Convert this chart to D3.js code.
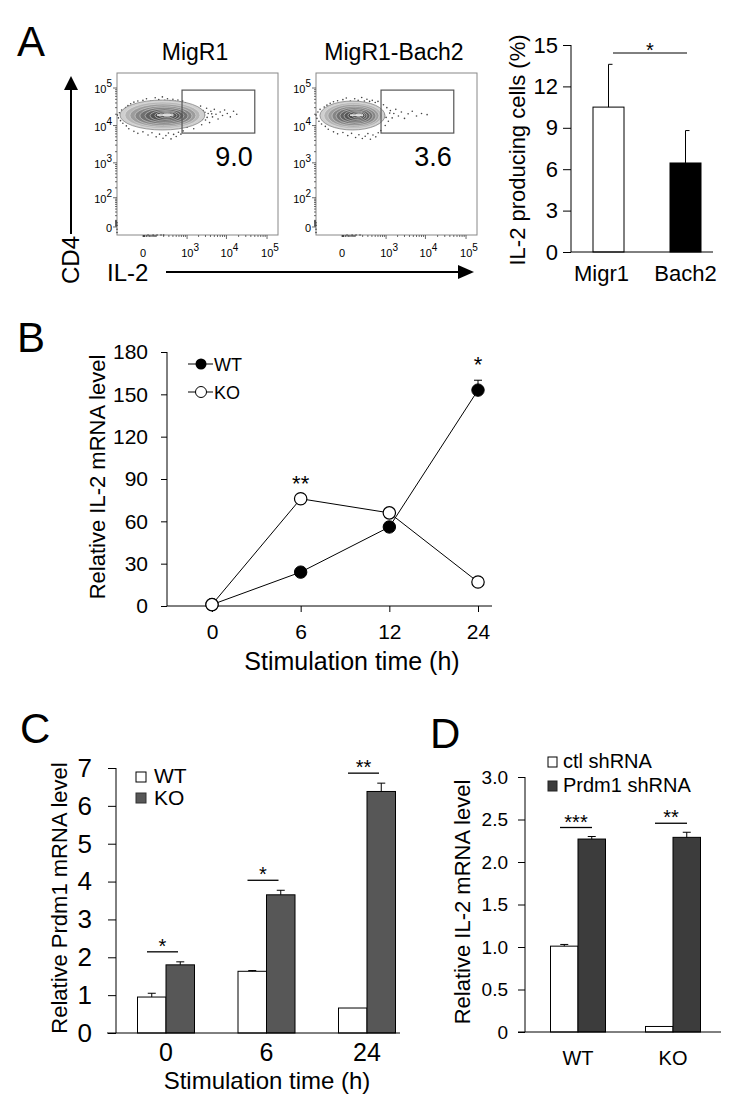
<!DOCTYPE html>
<html>
<head>
<meta charset="utf-8">
<script src="https://cdn.jsdelivr.net/npm/d3@7"></script>
<style>
	body { margin: 0; background: #fff; }
	text { font-family: "Liberation Sans", Arial, sans-serif; fill: #000; }
</style>
</head>
<body>
<svg id="fig" width="745" height="1117"></svg>
<script>
// ---- panel A, flow plots ----
const flowTitles = ['MigR1', 'MigR1-Bach2'];
const flowPercents = ['9.0', '3.6'];
// gate bounds in channel values: [xlo, xhi, ylo, yhi]
const flowGate = [730, 50000, 6300, 88000];
// contour rings [xlo, xhi, ylo, yhi], outer to inner
const flowContours1 = [
	[-240, 2910, 7620, 47800], [-159, 2170, 8360, 42400], [-98, 1710, 9160, 37500],
	[-51, 1350, 10000, 33100], [-17, 1060, 11000, 30200], [11, 825, 12100, 27600],
	[44, 640, 13200, 25200], [87, 526, 14500, 23700], [132, 430, 15900, 22200], [189, 350, 17400, 20900]
];
const flowContours2 = [
	[-222, 934, 7620, 45000], [-159, 774, 8360, 40500], [-109, 640, 9160, 36500],
	[-68, 526, 10000, 32500], [-36, 430, 11000, 29800], [-11, 350, 12100, 27200],
	[11, 280, 13200, 25000], [36, 240, 14500, 23500], [68, 205, 15900, 22000], [109, 174, 17400, 20700]
];
const flowEvents1 = [
	[-290, 19000], [-270, 16000], [-250, 22000], [-230, 13500], [-210, 26000], [-190, 11500], [-170, 19000],
	[-150, 30000], [-140, 9800], [-120, 34000], [-110, 8200], [-90, 38000],
	[-60, 42000], [-30, 45000], [0, 47000], [20, 52000], [50, 44000], [90, 55000], [130, 49000],
	[180, 58000], [220, 47000], [270, 52000], [330, 46000], [400, 50000], [470, 44000], [560, 48000],
	[650, 42000], [760, 45000],
	[-60, 7000], [-30, 6200], [0, 6800], [30, 5600], [60, 6400], [100, 5000], [140, 5900], [190, 4600],
	[240, 5400], [290, 6300], [350, 4400], [420, 5800], [500, 5100], [580, 6600], [680, 5900], [780, 7200],
	[900, 40000], [1000, 9000], [1100, 36000], [1250, 11000], [1400, 31000], [1500, 8200], [1650, 27000],
	[1800, 13000], [1950, 22000], [2100, 16500], [2250, 33000], [2400, 10500], [2600, 25000], [2800, 19000],
	[3000, 14000], [3200, 29000], [3500, 21000], [3800, 12000], [4100, 24000], [4500, 17000], [5000, 27000],
	[5500, 20000], [6200, 15000], [7000, 23000], [8000, 18500], [9000, 26000], [10500, 21000],
	[12500, 17000], [15000, 24000], [18000, 20000], [1300, 19000], [1700, 17500], [2000, 26000],
	[2500, 14500], [1150, 23000], [1450, 15500], [2900, 22500], [3300, 16500], [4300, 20500],
	[-300, 2], [-300, -3], [-300, 6], [-300, -8], [30, -12.7], [70, -12.7], [110, -12.7], [160, -12.7], [200, -12.7]
];
const flowEvents2 = [
	[-300, 19000], [-280, 15500], [-260, 23000], [-240, 13000], [-220, 27000], [-195, 11000], [-175, 20000],
	[-155, 31000], [-140, 9500], [-120, 35000], [-105, 8000], [-85, 39000],
	[-55, 43000], [-25, 46000], [5, 49000], [25, 54000], [55, 45000], [95, 52000], [135, 47000],
	[185, 56000], [230, 45000], [280, 50000], [340, 44000], [410, 47000], [500, 41000], [600, 44000],
	[-55, 6800], [-25, 6000], [5, 6500], [35, 5400], [65, 6200], [105, 4800], [145, 5700], [195, 4500],
	[245, 5200], [300, 6100], [360, 4300], [430, 5600], [520, 5000], [610, 6400], [720, 7400],
	[850, 36000], [950, 10000], [1050, 30000], [1150, 13000], [1300, 25000], [1450, 16000], [1600, 21000],
	[1800, 27000], [2100, 18000], [2500, 23000], [3000, 15500], [3700, 20500], [4700, 24000], [6000, 18000],
	[8000, 21000], [11000, 19500], [900, 19000], [1250, 21500], [1000, 16500],
	[-300, 2], [-300, -3], [-300, 6], [-300, -8], [30, -12.7], [70, -12.7], [110, -12.7], [160, -12.7]
];
const flowXTicks = [0, 1e3, 1e4, 1e5];
const flowYTicks = [0, 1e2, 1e3, 1e4, 1e5];

// ---- panel A, bar chart ----
const aGroups = ['Migr1', 'Bach2'];
const aValues = [10.5, 6.45];
const aErrors = [3.1, 2.35];
const aTicks = [0, 3, 6, 9, 12, 15];

// ---- panel B ----
const bTimes = ['0', '6', '12', '24'];
const bWT = [1, 24, 56, 153];
const bKO = [1, 76, 66, 17];
const bWTerr = [0, 0, 0, 7];
const bSig = ['', '**', '', '*'];
const bTicks = [0, 30, 60, 90, 120, 150, 180];

// ---- panel C ----
const cTimes = ['0', '6', '24'];
const cWT = [0.95, 1.63, 0.66];
const cKO = [1.8, 3.65, 6.38];
const cWTerr = [0.1, 0.02, 0];
const cKOerr = [0.08, 0.12, 0.22];
const cSig = ['*', '*', '**'];
const cTicks = [0, 1, 2, 3, 4, 5, 6, 7];

// ---- panel D ----
const dGroups = ['WT', 'KO'];
const dCtl = [1.01, 0.065];
const dPrdm1 = [2.27, 2.29];
const dCtlErr = [0.02, 0];
const dPrdm1Err = [0.03, 0.06];
const dSig = ['***', '**'];
const dTicks = [0, 0.5, 1, 1.5, 2, 2.5, 3];

const svg = d3.select('#fig');
svg.append('rect').attr('width', 745).attr('height', 1117).attr('fill', '#fff');

function label(x, y, txt, size, anchor) {
	return svg.append('text').attr('x', x).attr('y', y)
		.attr('font-size', size).attr('text-anchor', anchor || 'start').text(txt);
}

function vLabel(cx, cy, txt, size) {
	return svg.append('text')
		.attr('transform', 'translate(' + cx + ',' + cy + ') rotate(-90)')
		.attr('text-anchor', 'middle').attr('dy', '0.35em')
		.attr('font-size', size).text(txt);
}

function line(x1, y1, x2, y2, w) {
	return svg.append('line').attr('x1', x1).attr('y1', y1).attr('x2', x2).attr('y2', y2)
		.attr('stroke', '#000').attr('stroke-width', w || 1);
}

function powLabel(sel, v) {
	if (v === 0) {
		sel.text('0');
		return;
	}
	sel.append('tspan').text('10');
	sel.append('tspan').attr('dy', -6).attr('font-size', 10).text(Math.round(Math.log10(v)));
}

// panel letters
label(17, 56, 'A', 42);
label(17, 352, 'B', 42);
label(20, 743, 'C', 42);
label(430, 748, 'D', 42);

// ---------- A: flow plots ----------
function flowPlot(x0, contours, events, pct, title) {
	const x = d3.scaleSymlog().constant(90).domain([-300, 186000]).range([x0, x0 + 161]);
	const y = d3.scaleSymlog().constant(20).domain([-12.7, 251000]).range([235, 73]);
	const g = svg.append('g');

	g.append('rect').attr('x', x0).attr('y', 73).attr('width', 161).attr('height', 162)
		.attr('fill', 'none').attr('stroke', '#888').attr('stroke-width', 1);

	// minor + major ticks
	let minors = [];
	[1, 10, 100, 1000, 10000].forEach(k => {
		for (let m = 1; m < 10; m++) {
			minors.push(m * k);
		}
	});
	minors.push(100000);
	minors.filter(v => v < 186000).forEach(v => {
		const major = flowXTicks.includes(v);
		g.append('line').attr('x1', x(v)).attr('x2', x(v)).attr('y1', 235).attr('y2', 235 + (major ? 4 : 2))
			.attr('stroke', '#444').attr('stroke-width', 0.8);
	});
	minors.concat([0]).filter(v => v < 251000 && v >= 0).forEach(v => {
		const major = flowYTicks.includes(v);
		g.append('line').attr('x1', x0).attr('x2', x0 - (major ? 4 : 2)).attr('y1', y(v)).attr('y2', y(v))
			.attr('stroke', '#444').attr('stroke-width', 0.8);
	});

	flowXTicks.forEach(v => {
		const t = g.append('text').attr('x', x(v) + (v ? 3 : 0)).attr('y', 257)
			.attr('font-size', 11).attr('text-anchor', 'middle').attr('fill', '#222');
		powLabel(t, v);
	});
	flowYTicks.forEach(v => {
		const t = g.append('text').attr('x', x0 - 5).attr('y', y(v) + 5)
			.attr('font-size', 11).attr('text-anchor', 'end').attr('fill', '#222');
		powLabel(t, v);
	});

	g.selectAll('circle.ev').data(events).enter().append('circle')
		.attr('class', 'ev')
		.attr('cx', d => x(d[0])).attr('cy', d => y(d[1])).attr('r', 0.8).attr('fill', '#444');

	// density contours
	const shades = ['#cfcfcf', '#b5b5b5', '#9c9c9c', '#858585', '#707070', '#606060', '#545454', '#4c4c4c', '#5a5a5a', '#9a9a9a'];
	contours.forEach((r, i) => {
		const xa = x(r[0]), xb = x(r[1]), ya = y(r[2]), yb = y(r[3]);
		g.append('ellipse')
			.attr('cx', (xa + xb) / 2).attr('cy', (ya + yb) / 2)
			.attr('rx', (xb - xa) / 2).attr('ry', Math.abs(ya - yb) / 2)
			.attr('fill', shades[i]).attr('stroke', i ? '#e6e6e6' : '#777').attr('stroke-width', i ? 0.5 : 0.7);
	});
	const inner = contours[contours.length - 1];
	const midY = y(Math.sqrt(inner[2] * inner[3]));
	g.append('line').attr('x1', x(inner[0]) - 6).attr('x2', x(inner[1]) + 2)
		.attr('y1', midY).attr('y2', midY)
		.attr('stroke', '#f4f4f4').attr('stroke-width', 1.4);

	// gate
	g.append('rect').attr('x', x(flowGate[0])).attr('y', y(flowGate[3]))
		.attr('width', x(flowGate[1]) - x(flowGate[0])).attr('height', y(flowGate[2]) - y(flowGate[3]))
		.attr('fill', 'none').attr('stroke', '#555').attr('stroke-width', 1.2);

	label(x(flowGate[1]) - 2, 166, pct, 27, 'end');
	label(x0 + 78, 60, title, 23, 'middle');
}

flowPlot(117, flowContours1, flowEvents1, flowPercents[0], flowTitles[0]);
flowPlot(316, flowContours2, flowEvents2, flowPercents[1], flowTitles[1]);

// axis arrows
line(71, 234, 71, 88, 2);
svg.append('path').attr('d', 'M64,90 L71,76 L78,90 Z').attr('fill', '#000');
vLabel(71, 260, 'CD4', 24);
label(107, 281, 'IL-2', 24);
line(166, 272, 460, 272, 2);
svg.append('path').attr('d', 'M458,265 L474,272 L458,279 Z').attr('fill', '#000');

// ---------- A: bar chart ----------
(function () {
	const y = d3.scaleLinear().domain([0, 15]).range([252, 45]);
	const x = d3.scalePoint().domain(aGroups).range([608.5, 685.5]);
	const bw = 31;
	const g = svg.append('g');
	g.append('g').attr('transform', 'translate(571,0)')
		.call(d3.axisLeft(y).tickValues(aTicks).tickSize(8).tickPadding(5))
		.call(a => a.select('.domain').attr('d', 'M0,' + y(15) + 'V' + y(0)))
		.call(a => a.selectAll('text').attr('font-size', 22).attr('font-family', 'Liberation Sans, Arial'));
	line(571, y(0), 713, y(0), 1);

	aGroups.forEach((k, i) => {
		const cx = x(k);
		line(cx, y(aValues[i]), cx, y(aValues[i] + aErrors[i]), 1);
		line(cx, y(aValues[i] + aErrors[i]), cx + 4, y(aValues[i] + aErrors[i]), 1);
		g.append('rect').attr('x', cx - bw / 2).attr('y', y(aValues[i]))
			.attr('width', bw).attr('height', y(0) - y(aValues[i]))
			.attr('fill', i ? '#000' : '#fff').attr('stroke', '#000').attr('stroke-width', 1);
		label(cx - 7 * (1 - i), 281, k, 22, 'middle');
	});
	line(613, 53, 687, 53, 1);
	label(650, 57, '*', 20, 'middle');
	vLabel(517, 150, 'IL-2 producing cells (%)', 22);
})();

// ---------- B: line chart ----------
(function () {
	const y = d3.scaleLinear().domain([0, 180]).range([606, 352]);
	const x = d3.scalePoint().domain(bTimes).range([212, 478]);
	const g = svg.append('g');

	g.append('g').attr('transform', 'translate(167,0)')
		.call(d3.axisLeft(y).tickValues(bTicks).tickSize(6).tickPadding(13))
		.call(a => a.select('.domain').attr('d', 'M0,' + y(180) + 'V' + y(0)))
		.call(a => a.selectAll('text').attr('font-size', 21).attr('font-family', 'Liberation Sans, Arial'));
	g.append('g').attr('transform', 'translate(0,606)')
		.call(d3.axisBottom(x).tickSize(6).tickPadding(12))
		.call(a => a.select('.domain').attr('d', 'M167,0H492'))
		.call(a => a.selectAll('text').attr('font-size', 21).attr('font-family', 'Liberation Sans, Arial'));

	const path = d3.line().x((d, i) => x(bTimes[i])).y(d => y(d));

	bWT.forEach((v, i) => {
		if (bWTerr[i]) {
			line(x(bTimes[i]), y(v), x(bTimes[i]), y(v + bWTerr[i]), 1);
			line(x(bTimes[i]) - 4, y(v + bWTerr[i]), x(bTimes[i]) + 4, y(v + bWTerr[i]), 1);
		}
	});
	g.append('path').attr('d', path(bKO)).attr('fill', 'none').attr('stroke', '#000').attr('stroke-width', 1);
	g.append('path').attr('d', path(bWT)).attr('fill', 'none').attr('stroke', '#000').attr('stroke-width', 1);
	g.selectAll('circle.wt').data(bWT).enter().append('circle').attr('class', 'wt')
		.attr('cx', (d, i) => x(bTimes[i])).attr('cy', d => y(d)).attr('r', 6.2)
		.attr('fill', '#000').attr('stroke', '#000');
	g.selectAll('circle.ko').data(bKO).enter().append('circle').attr('class', 'ko')
		.attr('cx', (d, i) => x(bTimes[i])).attr('cy', d => y(d)).attr('r', 6.2)
		.attr('fill', '#fff').attr('stroke', '#000').attr('stroke-width', 1.2);

	bSig.forEach((s, i) => {
		if (!s) {
			return;
		}
		const top = Math.max(bWT[i] + bWTerr[i], bKO[i]);
		label(x(bTimes[i]), y(top) - 8, s, 22, 'middle');
	});

	// legend
	line(188, 364, 213, 364, 1);
	svg.append('circle').attr('cx', 201).attr('cy', 364).attr('r', 5.5).attr('fill', '#000');
	label(214, 371, 'WT', 18);
	line(188, 392, 213, 392, 1);
	svg.append('circle').attr('cx', 201).attr('cy', 392).attr('r', 5.5).attr('fill', '#fff').attr('stroke', '#000');
	label(214, 399, 'KO', 18);

	vLabel(97, 477, 'Relative IL-2 mRNA level', 22);
	label(352, 670, 'Stimulation time (h)', 25, 'middle');
})();

// ---------- grouped bar helper for C and D ----------
function groupedBars(opt) {
	const y = d3.scaleLinear().domain(opt.domain).range(opt.yRange);
	const x = d3.scalePoint().domain(opt.groups).range(opt.xRange);
	const bw = opt.bw;
	const g = svg.append('g');

	g.append('g').attr('transform', 'translate(' + opt.axisX + ',0)')
		.call(d3.axisLeft(y).tickValues(opt.ticks).tickSize(opt.tickLen).tickPadding(opt.tickPad).tickFormat(opt.fmt))
		.call(a => a.select('.domain').attr('d', 'M0,' + y(opt.domain[1]) + 'V' + y(0)))
		.call(a => a.selectAll('text').attr('font-size', opt.tickFont).attr('font-family', 'Liberation Sans, Arial'));

	opt.groups.forEach((k, i) => {
		const cx = x(k);
		[[opt.a, opt.aErr, '#fff', cx - bw], [opt.b, opt.bErr, opt.fill, cx]].forEach(s => {
			const v = s[0][i], e = s[1][i];
			if (e) {
				line(s[3] + bw / 2, y(v), s[3] + bw / 2, y(v + e), 1);
				line(s[3] + bw / 2 - 4, y(v + e), s[3] + bw / 2 + 4, y(v + e), 1);
			}
			g.append('rect').attr('x', s[3]).attr('y', y(v)).attr('width', bw).attr('height', y(0) - y(v))
				.attr('fill', s[2]).attr('stroke', '#000').attr('stroke-width', 1);
		});
		const ly = y(opt.b[i] + opt.bErr[i]) - opt.sigGap;
		line(cx + opt.sigX[0], ly, cx + opt.sigX[1], ly, 1.3);
		label(cx + (opt.sigX[0] + opt.sigX[1]) / 2, ly + 1, opt.sig[i], 20, 'middle');
		label(cx, opt.labelY, k, opt.labelFont, 'middle');
	});
	line(opt.xAxis[0], y(0), opt.xAxis[1], y(0), 1);
}

groupedBars({
	domain: [0, 7], yRange: [1033, 768], groups: cTimes, xRange: [166, 367], bw: 28.5,
	axisX: 116, ticks: cTicks, tickLen: 8, tickPad: 16, tickFont: 26, fmt: d3.format('d'),
	a: cWT, aErr: cWTerr, b: cKO, bErr: cKOerr, fill: '#575757',
	sig: cSig, sigX: [-19, 12], sigGap: 10, labelY: 1061, labelFont: 25, xAxis: [107, 400]
});
vLabel(59, 898, 'Relative Prdm1 mRNA level', 22);
label(267, 1089, 'Stimulation time (h)', 24, 'middle');
svg.append('rect').attr('x', 136).attr('y', 772).attr('width', 10).attr('height', 10).attr('fill', '#fff').attr('stroke', '#000');
label(154, 783, 'WT', 21);
svg.append('rect').attr('x', 136).attr('y', 793).attr('width', 10).attr('height', 10).attr('fill', '#575757').attr('stroke', '#333');
label(154, 805, 'KO', 21);

groupedBars({
	domain: [0, 3], yRange: [1032, 777], groups: dGroups, xRange: [578, 673], bw: 27.5,
	axisX: 525, ticks: dTicks, tickLen: 7, tickPad: 10, tickFont: 19, fmt: d => d === 0 ? '0' : d.toFixed(1),
	a: dCtl, aErr: dCtlErr, b: dPrdm1, bErr: dPrdm1Err, fill: '#3c3c3c',
	sig: dSig, sigX: [-18, 14], sigGap: 9, labelY: 1065, labelFont: 20, xAxis: [518, 721]
});
vLabel(462, 902, 'Relative IL-2 mRNA level', 22);
svg.append('rect').attr('x', 548).attr('y', 757).attr('width', 9).attr('height', 10).attr('fill', '#fff').attr('stroke', '#000');
label(563, 768, 'ctl shRNA', 20);
svg.append('rect').attr('x', 548).attr('y', 781).attr('width', 9).attr('height', 10).attr('fill', '#3c3c3c').attr('stroke', '#222');
label(563, 792, 'Prdm1 shRNA', 20);
</script>
</body>
</html>
